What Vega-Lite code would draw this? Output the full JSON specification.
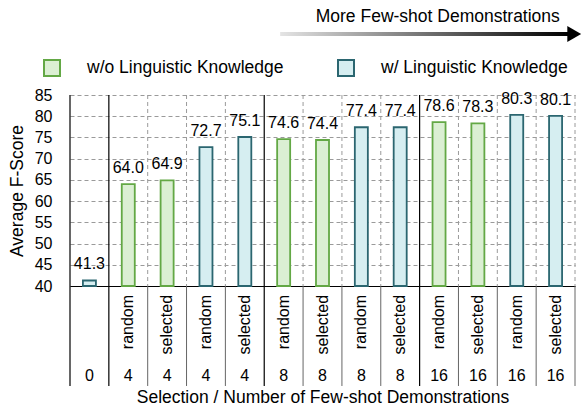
{
  "$schema": "https://vega.github.io/schema/vega-lite/v6.json",
  "width": 505,
  "height": 191,
  "autosize": {"type": "none"},
  "padding": {"left": 70, "top": 95, "right": 7, "bottom": 121},
  "config": {
    "font": "Liberation Sans",
    "view": {"stroke": null},
    "axisY": {
      "domain": false, "ticks": false,
      "labelFontSize": 16, "labelPadding": 18, "labelColor": "black", "labelOverlap": false,
      "grid": true, "gridColor": "#9a9a9a", "gridDash": [4, 3], "gridWidth": 1,
      "titleFontSize": 17.5, "titleFontWeight": "normal", "titleColor": "black", "titlePadding": 8
    },
    "axisX": {
      "labels": false, "ticks": false, "grid": false,
      "domain": true, "domainColor": "black", "domainWidth": 1,
      "titleFontSize": 17.5, "titleFontWeight": "normal", "titleColor": "black", "titlePadding": 102
    }
  },
  "datasets": {
    "scores": [
      {"col": 0, "sel": "", "n": "0", "score": 41.3, "kind": "w/ Linguistic Knowledge"},
      {"col": 1, "sel": "random", "n": "4", "score": 64.0, "kind": "w/o Linguistic Knowledge"},
      {"col": 2, "sel": "selected", "n": "4", "score": 64.9, "kind": "w/o Linguistic Knowledge"},
      {"col": 3, "sel": "random", "n": "4", "score": 72.7, "kind": "w/ Linguistic Knowledge"},
      {"col": 4, "sel": "selected", "n": "4", "score": 75.1, "kind": "w/ Linguistic Knowledge"},
      {"col": 5, "sel": "random", "n": "8", "score": 74.6, "kind": "w/o Linguistic Knowledge"},
      {"col": 6, "sel": "selected", "n": "8", "score": 74.4, "kind": "w/o Linguistic Knowledge"},
      {"col": 7, "sel": "random", "n": "8", "score": 77.4, "kind": "w/ Linguistic Knowledge"},
      {"col": 8, "sel": "selected", "n": "8", "score": 77.4, "kind": "w/ Linguistic Knowledge"},
      {"col": 9, "sel": "random", "n": "16", "score": 78.6, "kind": "w/o Linguistic Knowledge"},
      {"col": 10, "sel": "selected", "n": "16", "score": 78.3, "kind": "w/o Linguistic Knowledge"},
      {"col": 11, "sel": "random", "n": "16", "score": 80.3, "kind": "w/ Linguistic Knowledge"},
      {"col": 12, "sel": "selected", "n": "16", "score": 80.1, "kind": "w/ Linguistic Knowledge"}
    ],
    "groupLines": [{"col": 0}, {"col": 1}, {"col": 5}, {"col": 9}],
    "innerLines": [{"col": 2}, {"col": 3}, {"col": 4}, {"col": 6}, {"col": 7}, {"col": 8}, {"col": 10}, {"col": 11}, {"col": 12}],
    "edgeLine": [{"col": 12}]
  },
  "resolve": {"scale": {"x": "independent"}},
  "layer": [
    {
      "layer": [
        {
          "data": {"name": "innerLines"},
          "mark": {"type": "rule", "color": "#9a9a9a", "strokeDash": [4, 3], "strokeWidth": 1},
          "encoding": {
            "x": {"field": "col", "type": "ordinal", "bandPosition": 0, "scale": {"domain": [0,1,2,3,4,5,6,7,8,9,10,11,12], "paddingInner": 0, "paddingOuter": 0}, "title": "Selection / Number of Few-shot Demonstrations"},
            "y": {"datum": 85, "scale": {"domain": [40, 85], "nice": false, "zero": false}, "title": "Average F-Score", "axis": {"values": [40, 45, 50, 55, 60, 65, 70, 75, 80, 85]}},
            "y2": {"datum": 40}
          }
        },
        {
          "data": {"name": "innerLines"},
          "mark": {"type": "rule", "color": "#666666", "strokeWidth": 1},
          "encoding": {
            "x": {"field": "col", "type": "ordinal", "bandPosition": 0, "scale": {"domain": [0,1,2,3,4,5,6,7,8,9,10,11,12], "paddingInner": 0, "paddingOuter": 0}, "title": "Selection / Number of Few-shot Demonstrations"},
            "y": {"datum": 40, "scale": {"domain": [40, 85], "nice": false, "zero": false}, "title": "Average F-Score", "axis": {"values": [40, 45, 50, 55, 60, 65, 70, 75, 80, 85]}},
            "y2": {"datum": 16.44}
          }
        },
        {
          "data": {"name": "edgeLine"},
          "mark": {"type": "rule", "color": "#9a9a9a", "strokeDash": [4, 3], "strokeWidth": 1},
          "encoding": {
            "x": {"field": "col", "type": "ordinal", "bandPosition": 1, "scale": {"domain": [0,1,2,3,4,5,6,7,8,9,10,11,12], "paddingInner": 0, "paddingOuter": 0}, "title": "Selection / Number of Few-shot Demonstrations"},
            "y": {"datum": 85, "scale": {"domain": [40, 85], "nice": false, "zero": false}, "title": "Average F-Score", "axis": {"values": [40, 45, 50, 55, 60, 65, 70, 75, 80, 85]}},
            "y2": {"datum": 40}
          }
        },
        {
          "data": {"name": "edgeLine"},
          "mark": {"type": "rule", "color": "#666666", "strokeWidth": 1},
          "encoding": {
            "x": {"field": "col", "type": "ordinal", "bandPosition": 1, "scale": {"domain": [0,1,2,3,4,5,6,7,8,9,10,11,12], "paddingInner": 0, "paddingOuter": 0}, "title": "Selection / Number of Few-shot Demonstrations"},
            "y": {"datum": 40, "scale": {"domain": [40, 85], "nice": false, "zero": false}, "title": "Average F-Score", "axis": {"values": [40, 45, 50, 55, 60, 65, 70, 75, 80, 85]}},
            "y2": {"datum": 16.44}
          }
        },
        {
          "data": {"name": "scores"},
          "mark": {"type": "bar", "width": {"band": 0.335}, "strokeWidth": 1.8},
          "encoding": {
            "x": {"field": "col", "type": "ordinal", "scale": {"domain": [0,1,2,3,4,5,6,7,8,9,10,11,12], "paddingInner": 0, "paddingOuter": 0}, "title": "Selection / Number of Few-shot Demonstrations"},
            "y": {"field": "score", "type": "quantitative", "scale": {"domain": [40, 85], "nice": false, "zero": false}, "title": "Average F-Score", "axis": {"values": [40, 45, 50, 55, 60, 65, 70, 75, 80, 85]}},
            "y2": {"datum": 40},
            "fill": {
              "field": "kind", "type": "nominal",
              "scale": {"domain": ["w/o Linguistic Knowledge", "w/ Linguistic Knowledge"], "range": ["#dbefd3", "#d6eef1"]},
              "legend": {"title": null, "orient": "none", "legendX": -27, "legendY": -36, "direction": "horizontal", "symbolType": "square", "symbolSize": 256, "symbolStrokeWidth": 2, "labelFontSize": 17.5, "labelColor": "black", "labelOffset": 26, "columnPadding": 50, "padding": 0, "labelLimit": 300}
            },
            "stroke": {
              "field": "kind", "type": "nominal",
              "scale": {"domain": ["w/o Linguistic Knowledge", "w/ Linguistic Knowledge"], "range": ["#63a845", "#2b6670"]},
              "legend": {"title": null, "orient": "none", "legendX": -27, "legendY": -36, "direction": "horizontal", "symbolType": "square", "symbolSize": 256, "symbolStrokeWidth": 2, "labelFontSize": 17.5, "labelColor": "black", "labelOffset": 26, "columnPadding": 50, "padding": 0, "labelLimit": 300}
            }
          }
        },
        {
          "data": {"name": "groupLines"},
          "mark": {"type": "rule", "color": "black", "strokeWidth": 1.2},
          "encoding": {
            "x": {"field": "col", "type": "ordinal", "bandPosition": 0, "scale": {"domain": [0,1,2,3,4,5,6,7,8,9,10,11,12], "paddingInner": 0, "paddingOuter": 0}, "title": "Selection / Number of Few-shot Demonstrations"},
            "y": {"datum": 85, "scale": {"domain": [40, 85], "nice": false, "zero": false}, "title": "Average F-Score", "axis": {"values": [40, 45, 50, 55, 60, 65, 70, 75, 80, 85]}},
            "y2": {"datum": 16.44}
          }
        },
        {
          "data": {"name": "scores"},
          "mark": {"type": "text", "fontSize": 16, "baseline": "alphabetic", "dy": -11, "color": "black"},
          "encoding": {
            "x": {"field": "col", "type": "ordinal", "scale": {"domain": [0,1,2,3,4,5,6,7,8,9,10,11,12], "paddingInner": 0, "paddingOuter": 0}, "title": "Selection / Number of Few-shot Demonstrations"},
            "y": {"field": "score", "type": "quantitative", "scale": {"domain": [40, 85], "nice": false, "zero": false}, "title": "Average F-Score", "axis": {"values": [40, 45, 50, 55, 60, 65, 70, 75, 80, 85]}},
            "text": {"field": "score", "type": "quantitative", "format": ".1f"}
          }
        },
        {
          "data": {"name": "scores"},
          "mark": {"type": "text", "fontSize": 16, "angle": 270, "align": "right", "baseline": "middle", "color": "black"},
          "encoding": {
            "x": {"field": "col", "type": "ordinal", "scale": {"domain": [0,1,2,3,4,5,6,7,8,9,10,11,12], "paddingInner": 0, "paddingOuter": 0}, "title": "Selection / Number of Few-shot Demonstrations"},
            "y": {"datum": 37.9, "scale": {"domain": [40, 85], "nice": false, "zero": false}, "title": "Average F-Score", "axis": {"values": [40, 45, 50, 55, 60, 65, 70, 75, 80, 85]}},
            "text": {"field": "sel", "type": "nominal"}
          }
        },
        {
          "data": {"name": "scores"},
          "mark": {"type": "text", "fontSize": 16, "baseline": "middle", "color": "black"},
          "encoding": {
            "x": {"field": "col", "type": "ordinal", "scale": {"domain": [0,1,2,3,4,5,6,7,8,9,10,11,12], "paddingInner": 0, "paddingOuter": 0}, "title": "Selection / Number of Few-shot Demonstrations"},
            "y": {"datum": 18.8, "scale": {"domain": [40, 85], "nice": false, "zero": false}, "title": "Average F-Score", "axis": {"values": [40, 45, 50, 55, 60, 65, 70, 75, 80, 85]}},
            "text": {"field": "n", "type": "nominal"}
          }
        }
      ]
    },
    {
      "data": {"values": [{"t": "More Few-shot Demonstrations"}]},
      "layer": [
        {
          "mark": {"type": "bar", "color": {"gradient": "linear", "x1": 0, "y1": 0, "x2": 1, "y2": 0, "stops": [{"offset": 0, "color": "#e4e4e4"}, {"offset": 1, "color": "#000000"}]}},
          "encoding": {
            "x": {"datum": 5.41, "type": "quantitative", "scale": {"domain": [0, 13], "nice": false, "zero": false}, "axis": null},
            "x2": {"datum": 12.85},
            "y": {"datum": 99.84, "scale": {"domain": [40, 85], "nice": false, "zero": false}, "title": "Average F-Score", "axis": {"values": [40, 45, 50, 55, 60, 65, 70, 75, 80, 85]}},
            "y2": {"datum": 98.9}
          }
        },
        {
          "mark": {"type": "point", "shape": "triangle-right", "filled": true, "color": "black", "opacity": 1, "size": 256},
          "encoding": {
            "x": {"datum": 12.98, "type": "quantitative", "scale": {"domain": [0, 13], "nice": false, "zero": false}, "axis": null},
            "y": {"datum": 99.35, "scale": {"domain": [40, 85], "nice": false, "zero": false}, "title": "Average F-Score", "axis": {"values": [40, 45, 50, 55, 60, 65, 70, 75, 80, 85]}}
          }
        },
        {
          "mark": {"type": "text", "align": "right", "baseline": "middle", "fontSize": 17.5, "color": "black"},
          "encoding": {
            "x": {"datum": 12.61, "type": "quantitative", "scale": {"domain": [0, 13], "nice": false, "zero": false}, "axis": null},
            "y": {"datum": 103.4, "scale": {"domain": [40, 85], "nice": false, "zero": false}, "title": "Average F-Score", "axis": {"values": [40, 45, 50, 55, 60, 65, 70, 75, 80, 85]}},
            "text": {"field": "t", "type": "nominal"}
          }
        }
      ]
    }
  ]
}
